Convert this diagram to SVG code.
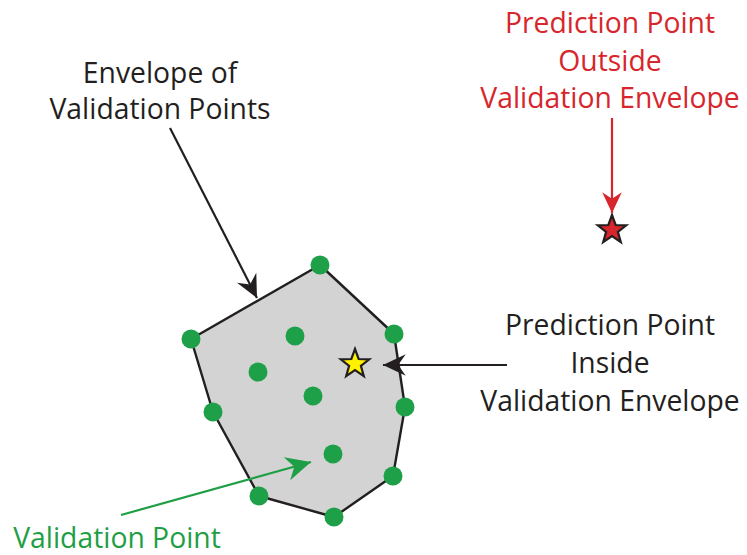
<svg xmlns="http://www.w3.org/2000/svg" xmlns:xlink="http://www.w3.org/1999/xlink" width="747" height="555" viewBox="0 0 747 555">
<style>
.lbl{font-family:"Open Sans","Noto Sans","Liberation Sans",sans-serif;font-size:28.3px;text-anchor:middle}
.blk{fill:#231f20}
.red{fill:#d7262c}
.grn{fill:#1e9f45}
.dot{fill:#1ea049}
.conn{fill:none;stroke-width:2.2}
</style>
<defs>
<marker id="ahB" markerUnits="userSpaceOnUse" markerWidth="26" markerHeight="24" viewBox="-22 -11 24 22" refX="0" refY="0" orient="auto"><path d="M0,0 L-21,-10 L-14,0 L-21,10 Z" fill="#231f20"/></marker>
<marker id="ahR" markerUnits="userSpaceOnUse" markerWidth="24" markerHeight="22" viewBox="-20 -10 22 20" refX="0" refY="0" orient="auto"><path d="M0,0 L-19,-9 L-13,0 L-19,9 Z" fill="#d7262c"/></marker>
<marker id="ahG" markerUnits="userSpaceOnUse" markerWidth="30" markerHeight="26" viewBox="-24 -12 26 24" refX="0" refY="0" orient="auto"><path d="M0,0 L-23,-11 L-16,0 L-23,11 Z" fill="#1e9f45"/></marker>
<path id="star" d="M0,-15 L3.64,-5.02 L14.27,-4.64 L5.90,1.92 L8.82,12.14 L0,6.2 L-8.82,12.14 L-5.90,1.92 L-14.27,-4.64 L-3.64,-5.02 Z" stroke="#231f20" stroke-width="2.2" stroke-linejoin="miter"/>
</defs>
<rect width="747" height="555" fill="#ffffff"/>

<g id="envelope">
<polygon points="320,265 394,334 405,407 393,476 334,517 259,496 213,412 191,339" fill="#d3d3d3" stroke="#231f20" stroke-width="2.4" stroke-linejoin="round"/>
</g>

<g id="validation-points">
<circle class="dot" cx="320" cy="265" r="9.5"/>
<circle class="dot" cx="394" cy="334" r="9.5"/>
<circle class="dot" cx="405" cy="407" r="9.5"/>
<circle class="dot" cx="393" cy="476" r="9.5"/>
<circle class="dot" cx="334" cy="517" r="9.5"/>
<circle class="dot" cx="259" cy="496" r="9.5"/>
<circle class="dot" cx="213" cy="412" r="9.5"/>
<circle class="dot" cx="191" cy="339" r="9.5"/>
<circle class="dot" cx="295" cy="336" r="9.5"/>
<circle class="dot" cx="258" cy="372" r="9.5"/>
<circle class="dot" cx="313" cy="396" r="9.5"/>
<circle class="dot" cx="333" cy="454" r="9.5"/>
</g>

<g id="star-inside"><use xlink:href="#star" href="#star" x="355" y="364" fill="#fff200"/></g>
<g id="star-outside"><use xlink:href="#star" href="#star" x="612" y="230" fill="#d7262c"/></g>

<g id="connectors">
<line class="conn" x1="170" y1="128" x2="257" y2="298" stroke="#231f20" marker-end="url(#ahB)"/>
<line class="conn" x1="507" y1="365" x2="383" y2="365" stroke="#231f20" marker-end="url(#ahB)"/>
<line class="conn" x1="612" y1="118" x2="612" y2="213" stroke="#d7262c" marker-end="url(#ahR)"/>
<line class="conn" x1="121" y1="515" x2="311" y2="462" stroke="#1e9f45" marker-end="url(#ahG)"/>
</g>

<g id="label-envelope">
<text class="lbl blk" x="160" y="83">Envelope of</text>
<text class="lbl blk" x="160" y="119">Validation Points</text>
</g>
<g id="label-outside">
<text class="lbl red" x="610" y="33">Prediction Point</text>
<text class="lbl red" x="610" y="71">Outside</text>
<text class="lbl red" x="610" y="108">Validation Envelope</text>
</g>
<g id="label-inside">
<text class="lbl blk" x="610" y="335">Prediction Point</text>
<text class="lbl blk" x="610" y="373">Inside</text>
<text class="lbl blk" x="610" y="411">Validation Envelope</text>
</g>
<g id="label-validation">
<text class="lbl grn" x="117" y="548">Validation Point</text>
</g>
</svg>
